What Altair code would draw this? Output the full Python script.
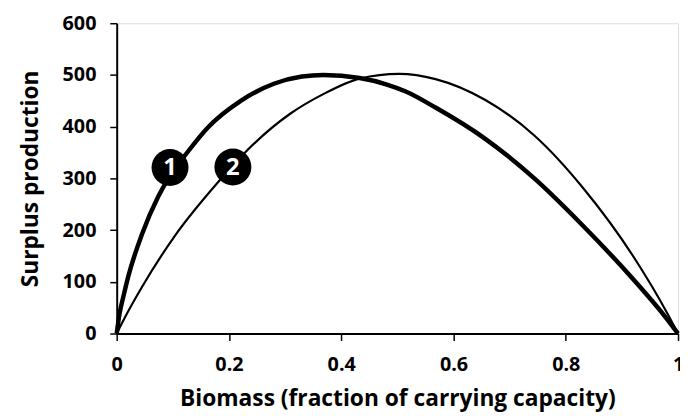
import altair as alt
import pandas as pd

# Curve 1 (thick): values
x1 = [0, 0.005, 0.012, 0.021, 0.045, 0.074, 0.095, 0.127, 0.162, 0.221, 0.28, 0.33, 0.368,
      0.433, 0.48, 0.515, 0.568, 0.656, 0.744, 0.832, 0.921, 0.979, 1.0]
y1 = [0, 38, 72, 112, 192, 265, 305, 352, 398, 450, 483, 497, 500,
      494, 482, 468, 437, 377, 300, 207, 104, 30, 0]

# Curve 2 (thin)
x2 = [0, 0.02, 0.045, 0.103, 0.18, 0.233, 0.309, 0.368, 0.433, 0.503, 0.568, 0.656,
      0.744, 0.832, 0.921, 0.982, 1.0]
y2 = [0, 42, 90, 188, 292, 355, 425, 463, 493, 502, 492, 452,
      383, 280, 148, 37, 0]

# Numbered markers
marker_x = [0.095, 0.207]
marker_y = [321, 322]
marker_label = ["1", "2"]

x_ticks = [0, 0.2, 0.4, 0.6, 0.8, 1.0]
y_ticks = [0, 100, 200, 300, 400, 500, 600]

FONT = "Open Sans"

df1 = pd.DataFrame({"x": x1, "y": y1})
df2 = pd.DataFrame({"x": x2, "y": y2})
dm = pd.DataFrame({"x": marker_x, "y": marker_y, "label": marker_label})

xs = alt.Scale(domain=[0, 1], nice=False)
ys = alt.Scale(domain=[0, 600], nice=False)

xaxis = alt.Axis(values=x_ticks, format="~g", title="Biomass (fraction of carrying capacity)",
                 grid=False, tickSize=7, labelPadding=14, titlePadding=14,
                 labelFontSize=20, titleFontSize=23, labelFont=FONT, titleFont=FONT,
                 labelFontWeight="bold", titleFontWeight="bold", labelColor="black",
                 titleColor="black", domainColor="black", tickColor="black",
                 domainWidth=2, tickWidth=1.5, labelFlush=False)
yaxis = alt.Axis(values=y_ticks, title="Surplus production",
                 grid=False, tickSize=7, labelPadding=14, titlePadding=20,
                 labelFontSize=20, titleFontSize=23, labelFont=FONT, titleFont=FONT,
                 labelFontWeight="bold", titleFontWeight="bold", labelColor="black",
                 titleColor="black", domainColor="black", tickColor="black",
                 domainWidth=2, tickWidth=1.5)

line1 = alt.Chart(df1).mark_line(color="black", strokeWidth=4.5, interpolate="monotone").encode(
    x=alt.X("x:Q", scale=xs, axis=xaxis),
    y=alt.Y("y:Q", scale=ys, axis=yaxis),
)
line2 = alt.Chart(df2).mark_line(color="black", strokeWidth=2.2, interpolate="monotone").encode(
    x=alt.X("x:Q", scale=xs),
    y=alt.Y("y:Q", scale=ys),
)
circles = alt.Chart(dm).mark_circle(color="black", opacity=1, size=1400).encode(
    x=alt.X("x:Q", scale=xs),
    y=alt.Y("y:Q", scale=ys),
)
labels = alt.Chart(dm).mark_text(color="white", font=FONT, fontWeight="bold", fontSize=24,
                                 baseline="middle", align="center", dy=1).encode(
    x=alt.X("x:Q", scale=xs),
    y=alt.Y("y:Q", scale=ys),
    text="label:N",
)

chart = alt.layer(line1, line2, circles, labels).properties(
    width=568, height=314,
    autosize=alt.AutoSizeParams(type="none"),
    padding={"left": 110, "top": 13, "right": 2, "bottom": 80},
).configure_view(stroke=None).configure(background="white")

chart.save("out.html", embed_options={"renderer": "svg", "actions": False})
